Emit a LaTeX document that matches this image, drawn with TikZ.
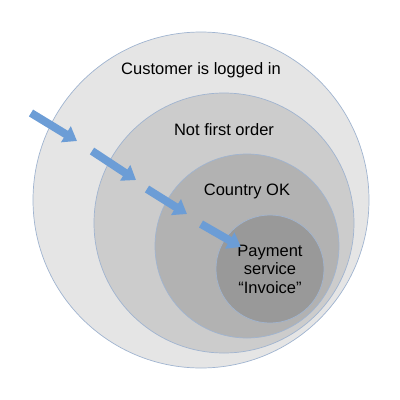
\documentclass[tikz,border=0pt]{standalone}
\usepackage{fontspec}
\setmainfont{Liberation Sans}
\usetikzlibrary{arrows.meta}

\definecolor{ringline}{RGB}{160,180,208}
\definecolor{flowblue}{RGB}{108,157,214}

\begin{document}
\begin{tikzpicture}[x=1pt, y=-1pt,
    ring/.style={draw=ringline, line width=0.7pt, circle, inner sep=0pt},
    ringtext/.style={font=\fontsize{16.5}{18.5}\selectfont, align=center, inner sep=0pt},
    flow/.style={draw=flowblue, line width=8pt, -{Triangle[width=18pt, length=13pt]}}]

    \useasboundingbox (0,0) rectangle (400,400);

    \node[ring, fill=gray!20, minimum size=336pt] (logged) at (201, 200) {};
    \node[ring, fill=gray!40, minimum size=260pt] (notfirst) at (224, 223) {};
    \node[ring, fill=gray!60, minimum size=184pt] (country) at (247, 246) {};
    \node[ring, fill=gray!80, minimum size=108pt] (payment) at (270, 269) {};

    \node[ringtext] (loggedtext) at (201, 70) {Customer is logged in};
    \node[ringtext] (notfirsttext) at (224, 130) {Not first order};
    \node[ringtext] (countrytext) at (247, 191) {Country OK};
    \node[ringtext] (paymenttext) at (270, 269) {Payment\\service\\“Invoice”};

    \coordinate (f1s) at (31, 113);
    \coordinate (f1e) at (77, 141);
    \coordinate (f2s) at (92, 151);
    \coordinate (f2e) at (136, 180);
    \coordinate (f3s) at (147, 189);
    \coordinate (f3e) at (187, 214);
    \coordinate (f4s) at (201, 224);
    \coordinate (f4e) at (241, 247);

    \foreach \i in {1,...,4}
        \draw[flow] (f\i s) -- (f\i e);

\end{tikzpicture}
\end{document}
